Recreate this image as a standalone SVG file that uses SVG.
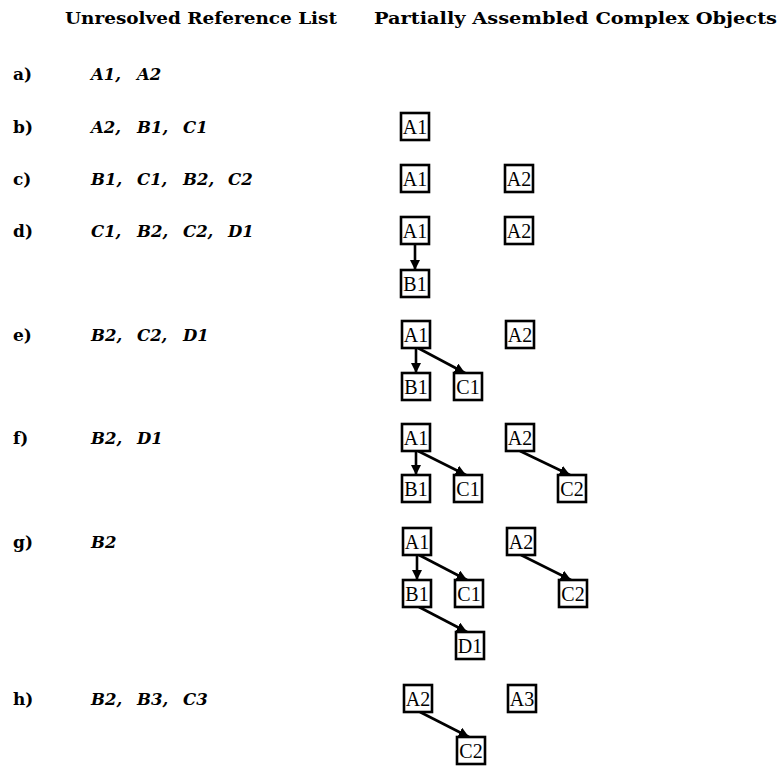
<svg xmlns="http://www.w3.org/2000/svg" width="780" height="766" viewBox="0 0 780 766">
<defs>
  <marker id="arr" viewBox="0 0 10 10" refX="10" refY="5" markerWidth="4" markerHeight="4" orient="auto" markerUnits="strokeWidth">
    <path d="M0,0 L10,5 L0,10 z" fill="#000"/>
  </marker>
</defs>
<style>
  .hdr { font-family: "DejaVu Serif", "Liberation Serif", serif; font-weight: bold; font-size: 17px; fill: #000; }
  .lbl { font-family: "DejaVu Serif", "Liberation Serif", serif; font-weight: bold; font-size: 17px; fill: #000; }
  .lst { font-family: "DejaVu Serif", "Liberation Serif", serif; font-weight: bold; font-style: italic; font-size: 16.5px; fill: #000; }
  .box rect { fill: #fff; stroke: #000; stroke-width: 2.6; }
  .box text { font-family: "Liberation Serif", serif; font-size: 20px; fill: #000; text-anchor: middle; }
  .edges line { stroke: #000; stroke-width: 2.6; marker-end: url(#arr); }
</style>
<rect width="780" height="766" fill="#fff"/>

<!-- column headings -->
<text class="hdr" x="65" y="24" textLength="272" lengthAdjust="spacingAndGlyphs">Unresolved Reference List</text>
<text class="hdr" x="374" y="24" textLength="403" lengthAdjust="spacingAndGlyphs">Partially Assembled Complex Objects</text>

<!-- step labels and reference lists (items on a fixed pitch) -->
<g id="list">
  <text class="lbl" x="13" y="80">a)</text>
  <text class="lst" y="80"><tspan x="91">A1,</tspan><tspan x="137">A2</tspan></text>
  <text class="lbl" x="13" y="133">b)</text>
  <text class="lst" y="133"><tspan x="91">A2,</tspan><tspan x="137">B1,</tspan><tspan x="183">C1</tspan></text>
  <text class="lbl" x="13" y="185">c)</text>
  <text class="lst" y="185"><tspan x="91">B1,</tspan><tspan x="137">C1,</tspan><tspan x="183">B2,</tspan><tspan x="228">C2</tspan></text>
  <text class="lbl" x="13" y="237">d)</text>
  <text class="lst" y="237"><tspan x="91">C1,</tspan><tspan x="137">B2,</tspan><tspan x="183">C2,</tspan><tspan x="228">D1</tspan></text>
  <text class="lbl" x="13" y="341">e)</text>
  <text class="lst" y="341"><tspan x="91">B2,</tspan><tspan x="137">C2,</tspan><tspan x="183">D1</tspan></text>
  <text class="lbl" x="13" y="444">f)</text>
  <text class="lst" y="444"><tspan x="91">B2,</tspan><tspan x="137">D1</tspan></text>
  <text class="lbl" x="13" y="548">g)</text>
  <text class="lst" y="548"><tspan x="91">B2</tspan></text>
  <text class="lbl" x="13" y="705">h)</text>
  <text class="lst" y="705"><tspan x="91">B2,</tspan><tspan x="137">B3,</tspan><tspan x="183">C3</tspan></text>
</g>

<!-- connectors -->
<g id="edges" class="edges">
  <line x1="415" y1="244" x2="415" y2="270"/>
  <line x1="416" y1="348" x2="416" y2="373"/>
  <line x1="418" y1="348" x2="465" y2="373"/>
  <line x1="416" y1="451" x2="416" y2="475"/>
  <line x1="418" y1="451" x2="466" y2="475"/>
  <line x1="520" y1="451" x2="570" y2="475"/>
  <line x1="417" y1="555" x2="417" y2="580"/>
  <line x1="419" y1="555" x2="467" y2="580"/>
  <line x1="521" y1="555" x2="571" y2="580"/>
  <line x1="419" y1="607" x2="467" y2="632"/>
  <line x1="420" y1="712" x2="469" y2="737"/>
</g>

<!-- nodes -->
<g id="b-A1" class="box"><rect x="401" y="113" width="28" height="27"/><text x="415" y="134">A1</text></g>

<g id="c-A1" class="box"><rect x="401" y="165" width="28" height="27"/><text x="415" y="186">A1</text></g>
<g id="c-A2" class="box"><rect x="505" y="165" width="28" height="27"/><text x="519" y="186">A2</text></g>

<g id="d-A1" class="box"><rect x="401" y="217" width="28" height="27"/><text x="415" y="238">A1</text></g>
<g id="d-A2" class="box"><rect x="505" y="217" width="28" height="27"/><text x="519" y="238">A2</text></g>
<g id="d-B1" class="box"><rect x="401" y="270" width="28" height="27"/><text x="415" y="291">B1</text></g>

<g id="e-A1" class="box"><rect x="402" y="321" width="28" height="27"/><text x="416" y="342">A1</text></g>
<g id="e-A2" class="box"><rect x="506" y="321" width="28" height="27"/><text x="520" y="342">A2</text></g>
<g id="e-B1" class="box"><rect x="402" y="373" width="28" height="27"/><text x="416" y="394">B1</text></g>
<g id="e-C1" class="box"><rect x="454" y="373" width="28" height="27"/><text x="468" y="394">C1</text></g>

<g id="f-A1" class="box"><rect x="402" y="424" width="28" height="27"/><text x="416" y="445">A1</text></g>
<g id="f-A2" class="box"><rect x="506" y="424" width="28" height="27"/><text x="520" y="445">A2</text></g>
<g id="f-B1" class="box"><rect x="402" y="475" width="28" height="27"/><text x="416" y="496">B1</text></g>
<g id="f-C1" class="box"><rect x="454" y="475" width="28" height="27"/><text x="468" y="496">C1</text></g>
<g id="f-C2" class="box"><rect x="558" y="475" width="28" height="27"/><text x="572" y="496">C2</text></g>

<g id="g-A1" class="box"><rect x="403" y="528" width="28" height="27"/><text x="417" y="549">A1</text></g>
<g id="g-A2" class="box"><rect x="507" y="528" width="28" height="27"/><text x="521" y="549">A2</text></g>
<g id="g-B1" class="box"><rect x="403" y="580" width="28" height="27"/><text x="417" y="601">B1</text></g>
<g id="g-C1" class="box"><rect x="455" y="580" width="28" height="27"/><text x="469" y="601">C1</text></g>
<g id="g-C2" class="box"><rect x="559" y="580" width="28" height="27"/><text x="573" y="601">C2</text></g>
<g id="g-D1" class="box"><rect x="456" y="632" width="28" height="27"/><text x="470" y="653">D1</text></g>

<g id="h-A2" class="box"><rect x="404" y="685" width="28" height="27"/><text x="418" y="706">A2</text></g>
<g id="h-A3" class="box"><rect x="508" y="685" width="28" height="27"/><text x="522" y="706">A3</text></g>
<g id="h-C2" class="box"><rect x="457" y="737" width="28" height="27"/><text x="471" y="758">C2</text></g>
</svg>
